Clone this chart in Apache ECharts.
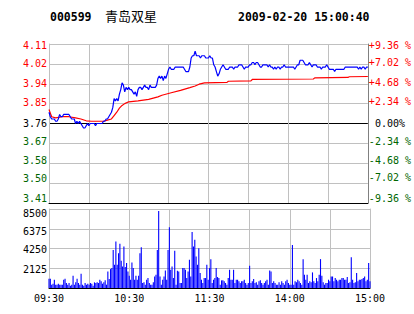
<!DOCTYPE html>
<html>
<head>
<meta charset="utf-8">
<script src="https://cdn.jsdelivr.net/npm/echarts@6/dist/echarts.min.js"></script>
<style>
html,body{margin:0;padding:0;background:#fff;}
#chart{width:414px;height:314px;}
</style>
</head>
<body>
<div id="chart"></div>
<script>
// ---- header texts ----
const titleCode = '000599';
const titleName = '青岛双星';
const titleTime = '2009-02-20 15:00:40';

// ---- reference price ----
const prevClose = 3.76;

// ---- x-axis time ticks (minutes since 09:30, trading minutes) ----
const tickMinutes = [0, 60, 120, 180, 240];
const tickLabels = ['09:30', '10:30', '11:30', '14:00', '15:00'];

// ---- price per trading minute (0..240) ----
const price = [
3.81,3.79,3.78,3.78,3.78,3.77,3.77,3.78,3.80,3.79,
3.79,3.80,3.80,3.80,3.80,3.80,3.79,3.78,3.78,3.78,
3.76,3.77,3.76,3.77,3.76,3.75,3.74,3.74,3.75,3.76,
3.75,3.76,3.76,3.76,3.76,3.75,3.76,3.76,3.76,3.76,
3.76,3.77,3.77,3.78,3.78,3.79,3.80,3.81,3.83,3.87,
3.86,3.87,3.86,3.89,3.91,3.94,3.93,3.90,3.92,3.91,
3.92,3.91,3.91,3.90,3.89,3.90,3.88,3.91,3.92,3.92,
3.91,3.92,3.93,3.92,3.92,3.91,3.93,3.92,3.92,3.92,
3.92,3.93,3.96,3.97,3.96,3.97,3.95,3.97,3.96,3.98,
4.00,4.01,4.00,4.00,4.00,4.01,4.01,4.01,4.01,4.01,
4.01,4.01,4.00,3.99,3.99,3.99,4.01,4.05,4.06,4.06,
4.08,4.06,4.06,4.06,4.05,4.06,4.06,4.06,4.05,4.05,
4.05,4.06,4.05,4.05,4.02,4.01,3.99,3.97,3.98,4.00,
4.01,4.02,4.01,4.00,4.00,4.00,4.01,4.01,4.01,4.00,
4.01,4.01,4.01,4.02,4.02,4.02,4.01,4.00,4.01,4.01,
4.01,4.02,4.02,4.03,4.03,4.02,4.03,4.03,4.02,4.01,
4.01,4.02,4.02,4.02,4.02,4.01,4.02,4.01,4.01,4.00,
4.01,4.00,4.01,4.01,4.00,4.01,4.01,4.02,4.01,4.01,
4.01,4.01,4.01,4.01,4.01,4.00,4.01,4.02,4.02,4.04,
4.04,4.04,4.03,4.02,4.02,4.02,4.03,4.02,4.01,4.02,
4.02,4.02,4.01,4.01,4.01,4.00,4.01,4.01,4.01,4.02,
4.01,4.00,4.00,4.00,4.00,3.99,4.00,4.00,4.00,4.00,
4.00,4.00,4.00,4.01,4.01,4.01,4.01,4.01,4.01,4.01,
4.01,4.01,4.01,4.00,4.01,4.00,4.01,4.01,4.00,4.01,
4.01
];

// ---- average price line (minute, value) ----
const avgMinutes = [0,2,5,10,15,20,24,28,32,41,44,47,49,51,53,55,57,60,67,75,82,85,92,99,106,110,113,117,134,135,152,153,199,200,225,226,240];
const avgPrice   = [3.822,3.790,3.785,3.790,3.790,3.785,3.780,3.772,3.770,3.770,3.775,3.780,3.795,3.810,3.828,3.840,3.848,3.856,3.860,3.867,3.878,3.885,3.896,3.907,3.919,3.926,3.934,3.940,3.942,3.947,3.949,3.955,3.957,3.962,3.964,3.967,3.968];

// ---- volume per trading minute (0..240) ----
const volume = [
1000,1000,350,464,900,357,357,464,357,357,357,892,1000,535,357,535,250,357,1320,357,607,1000,535,357,1535,357,
250,535,357,464,357,535,464,250,607,535,607,535,892,714,464,607,821,357,
1785,964,2035,2142,4100,2500,5000,2500,3750,4750,2927,2320,4460,2250,2677,1785,1320,892,2750,2142,892,1320,892,1320,3750,4390,535,607,357,892,1071,535,357,357,607,1250,1428,4100,
8280,1250,357,892,1250,1892,892,4100,6530,1963,2320,1071,4000,357,1856,1785,535,535,2142,2142,1963,1071,1785,3035,1250,6030,4460,5180,3390,2500,4280,1606,892,535,1071,1071,2500,892,2142,3106,535,892,1071,2142,1178,1071,357,821,821,714,535,357,1071,1963,892,892,1963,535,892,892,714,535,714,714,892,535,357,535,2392,535,714,964,535,607,357,714,821,535,357,535,714,892,357,1892,1785,535,714,535,357,357,607,357,714,535,357,714,892,535,357,357,4640,357,714,607,892,714,535,357,3106,1428,892,1428,535,714,607,1678,714,535,1071,714,1428,3106,1320,607,357,535,535,892,714,1250,1250,714,1071,892,714,892,892,1071,1071,892,892,1178,535,607,3320,892,535,607,1606,714,892,892,964,1071,1250,714,892,2677,714
];

// ---- axis ranges ----
const priceMin = 3.408, priceMax = 4.112, priceStep = 0.088;
const pctMin = -9.36, pctMax = 9.36, pctStep = 2.34;
const volMax = 8500, volStep = 2125;

// ---- styling / label placement (vertical nudge per tick index, px, + = down) ----
const MONO = '"DejaVu Sans Mono", "Liberation Mono", monospace';
const RED = '#ff0000', GREEN = '#006600', GRID = '#c0c0c0';
const leftNudge  = [-5, -5, -3, -2, 0, -1, 0, 0, 1];
const rightNudge = [-5, -6, -3, -2, 0, -2, -1, -1, 1];
const volNudge   = [0, 1, 1, 3, 4];

function nudgeStyle(d, color) {
  const s = {fontFamily: MONO, fontSize: 10, color: color};
  if (d > 0) s.padding = [2 * d, 0, 0, 0];
  else if (d < 0) s.padding = [0, 0, -2 * d, 0];
  return s;
}
function sideColor(diff) {
  return Math.abs(diff) < 1e-6 ? '#000' : (diff > 0 ? RED : GREEN);
}

const chart = echarts.init(document.getElementById('chart'), null, {renderer: 'svg', width: 414, height: 314});

const priceData = price.map((p, i) => [i, p]);
const avgData = avgMinutes.map((m, i) => [m, avgPrice[i]]);
const volData = volume.map((v, i) => [i, v]);

function timeLabel(v) {
  const k = tickMinutes.indexOf(Math.round(v));
  return k >= 0 ? tickLabels[k] : '';
}

// rich styles for labels
const leftRich = {}, rightRich = {}, volRich = {};
for (let i = 0; i < 9; i++) {
  const pv = priceMin + i * priceStep;
  leftRich['L' + i] = nudgeStyle(leftNudge[i], sideColor(pv - prevClose));
  const cv = pctMin + i * pctStep;
  rightRich['R' + i] = nudgeStyle(rightNudge[i], sideColor(cv));
}
for (let i = 0; i < 5; i++) volRich['V' + i] = nudgeStyle(volNudge[i], '#000');

const option = {
  animation: false,
  backgroundColor: '#ffffff',
  graphic: [
    {type: 'text', left: 50, top: 11, style: {text: titleCode, fontFamily: MONO, fontWeight: 'bold', fontSize: 11.5, fill: '#000'}},
    {type: 'text', left: 105, top: 9, style: {text: titleName, fontFamily: '"Noto Sans CJK SC"', fontSize: 13, fill: '#000'}},
    {type: 'text', left: 238, top: 11, style: {text: titleTime, fontFamily: MONO, fontWeight: 'bold', fontSize: 11.5, fill: '#000'}}
  ],
  grid: [
    {left: 49, top: 44, width: 321, height: 159},
    {left: 49, top: 209, width: 321, height: 79}
  ],
  xAxis: [
    {type: 'value', gridIndex: 0, min: 0, max: 240, interval: 30,
     axisLine: {show: true, onZero: false, lineStyle: {color: '#000'}},
     axisTick: {show: false}, axisLabel: {show: false},
     splitLine: {show: true, lineStyle: {color: GRID}}},
    {type: 'value', gridIndex: 1, min: 0, max: 240, interval: 30,
     axisLine: {show: true, onZero: false, lineStyle: {color: '#000'}},
     axisTick: {show: false},
     axisLabel: {formatter: timeLabel, fontFamily: MONO, fontSize: 10, color: '#000', margin: 5, showMinLabel: true, showMaxLabel: true},
     splitLine: {show: true, lineStyle: {color: GRID}}}
  ],
  yAxis: [
    {type: 'value', gridIndex: 0, position: 'left', min: priceMin, max: priceMax, interval: priceStep,
     axisLine: {show: true, lineStyle: {color: GRID}}, axisTick: {show: false},
     axisLabel: {
       formatter: (v, i) => '{L' + Math.round((v - priceMin) / priceStep) + '|' + v.toFixed(2) + '}',
       fontFamily: MONO, fontSize: 10, margin: 2, rich: leftRich
     },
     splitLine: {show: true, lineStyle: {color: ['#000', GRID, GRID, GRID, '#000', GRID, GRID, GRID, GRID]}}},
    {type: 'value', gridIndex: 0, position: 'right', min: pctMin, max: pctMax, interval: pctStep,
     axisLine: {show: true, lineStyle: {color: '#808080'}}, axisTick: {show: false},
     axisLabel: {
       formatter: v => {
         const k = Math.round((v - pctMin) / pctStep);
         const t = Math.abs(v) < 1e-6 ? '\u00a00.00%' : (v > 0 ? '+' + v.toFixed(2) + ' %' : '-' + Math.abs(v).toFixed(2) + ' %');
         return '{R' + k + '|' + t + '}';
       },
       fontFamily: MONO, fontSize: 10, margin: 1, rich: rightRich
     },
     splitLine: {show: false}},
    {type: 'value', gridIndex: 1, position: 'left', min: 0, max: volMax, interval: volStep,
     axisLine: {show: true, lineStyle: {color: GRID}}, axisTick: {show: false},
     axisLabel: {
       formatter: v => (v === 0 ? '' : '{V' + Math.round(v / volStep) + '|' + v + '}'),
       fontFamily: MONO, fontSize: 10, color: '#000', margin: 2, rich: volRich
     },
     splitLine: {show: true, lineStyle: {color: GRID}}},
    {type: 'value', gridIndex: 1, position: 'right', min: 0, max: volMax, interval: volStep,
     axisLine: {show: true, lineStyle: {color: GRID}}, axisTick: {show: false},
     axisLabel: {show: false}, splitLine: {show: false}}
  ],
  series: [
    {type: 'line', xAxisIndex: 0, yAxisIndex: 0, data: avgData, showSymbol: false, silent: true,
     lineStyle: {color: RED, width: 1.2}, z: 3},
    {type: 'line', xAxisIndex: 0, yAxisIndex: 0, data: priceData, showSymbol: false, silent: true,
     lineStyle: {color: '#0000ff', width: 1.2}, z: 4},
    {type: 'bar', xAxisIndex: 1, yAxisIndex: 2, data: volData, barWidth: 1.1, silent: true,
     itemStyle: {color: '#0000ff'}}
  ]
};
chart.setOption(option);
</script>
</body>
</html>
